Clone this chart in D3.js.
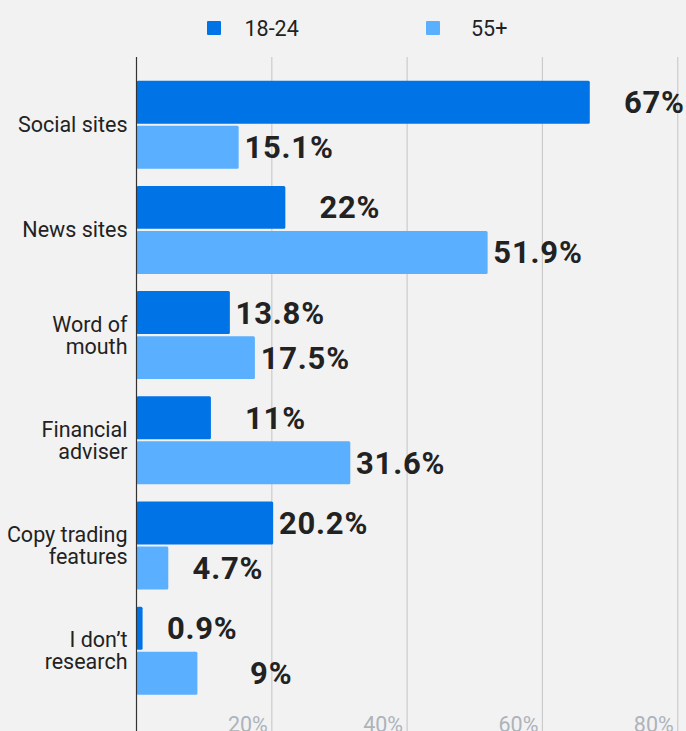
<!DOCTYPE html>
<html>
<head>
<meta charset="utf-8">
<script src="https://cdn.jsdelivr.net/npm/d3@7"></script>
<style>
  html, body { margin: 0; padding: 0; background: #f2f2f2; }
  svg { display: block; font-family: Roboto, "Noto Sans", sans-serif; }
</style>
</head>
<body>
<svg id="chart" width="686" height="731"></svg>
<script>
const categories = [["Social sites"], ["News sites"], ["Word of", "mouth"], ["Financial", "adviser"], ["Copy trading", "features"], ["I don\u2019t", "research"]];
const seriesNames = ["18-24", "55+"];
const values1824 = [67, 22, 13.8, 11, 20.2, 0.9];
const values55 = [15.1, 51.9, 17.5, 31.6, 4.7, 9];
const valueLabels1824 = ["67%", "22%", "13.8%", "11%", "20.2%", "0.9%"];
const valueLabels55 = ["15.1%", "51.9%", "17.5%", "31.6%", "4.7%", "9%"];
const tickValues = [20, 40, 60, 80];
const tickLabels = ["20%", "40%", "60%", "80%"];

const colors = ["#0073e6", "#5aafff"];
const W = 686, H = 731;
const svg = d3.select("#chart");

const catKeys = categories.map(c => c.join(" "));
const x = d3.scaleLinear().domain([0, 81]).range([136.5, 684.5]);
const y = d3.scaleBand().domain(catKeys).range([72.1, 703.3]).paddingInner(0.1635).paddingOuter(0.08175);
const ySub = d3.scaleBand().domain(seriesNames).range([0, y.bandwidth()]).paddingInner(0.0465);

const plotTop = 57;

// gridlines
svg.append("g").selectAll("line").data(tickValues).join("line")
  .attr("x1", d => x(d)).attr("x2", d => x(d))
  .attr("y1", plotTop).attr("y2", H)
  .attr("stroke", "#cccccc").attr("stroke-width", 1.2);

// tick labels
svg.append("g").selectAll("text").data(tickValues).join("text")
  .attr("x", d => x(d) - 4).attr("y", 732)
  .attr("text-anchor", "end")
  .attr("font-size", "21.5px").attr("fill", "#adb3bb")
  .text((d, i) => tickLabels[i]);

// bars
const rows = categories.map((c, i) => ({ key: catKeys[i], lines: c, vals: [values1824[i], values55[i]], labels: [valueLabels1824[i], valueLabels55[i]] }));
const groups = svg.append("g").selectAll("g").data(rows).join("g")
  .attr("transform", d => `translate(0,${y(d.key)})`);

groups.selectAll("rect").data(d => d.vals.map((v, j) => ({ v, s: seriesNames[j], j }))).join("rect")
  .attr("x", x(0)).attr("y", d => ySub(d.s))
  .attr("width", d => x(d.v) - x(0)).attr("height", ySub.bandwidth())
  .attr("rx", 1.5)
  .attr("fill", d => colors[d.j]);

// value labels
groups.selectAll("text.val").data(d => d.vals.map((v, j) => ({ v, s: seriesNames[j], label: d.labels[j] }))).join("text")
  .attr("class", "val")
  .attr("x", d => x(d.v) + 95)
  .attr("y", d => ySub(d.s) + ySub.bandwidth() / 2 + 11)
  .attr("text-anchor", "end")
  .attr("font-size", "31px").attr("font-weight", "bold").attr("fill", "#222222")
  .attr("letter-spacing", "0.8px")
  .text(d => d.label);

// category labels
const lineH = 22;
groups.each(function(d) {
  const g = d3.select(this);
  const n = d.lines.length;
  const cy = y.bandwidth() / 2;
  const t = g.append("text").attr("text-anchor", "end").attr("font-size", "21.5px").attr("fill", "#222222");
  d.lines.forEach((ln, k) => {
    t.append("tspan").attr("x", 127.5)
      .attr("y", cy + 7.6 + (k - (n - 1) / 2) * lineH)
      .text(ln);
  });
});

// axis line
svg.append("line").attr("x1", x(0)).attr("x2", x(0)).attr("y1", plotTop).attr("y2", H)
  .attr("stroke", "#333333").attr("stroke-width", 1.2);

// legend
const legendX = [207, 426];
const lg = svg.append("g").selectAll("g").data(seriesNames).join("g")
  .attr("transform", (d, i) => `translate(${legendX[i]},21)`);
lg.append("rect").attr("width", 14).attr("height", 14).attr("rx", 1).attr("fill", (d, i) => colors[i]);
lg.append("text").attr("x", (d, i) => i === 0 ? 37.5 : 45).attr("y", 15)
  .attr("font-size", "21.5px").attr("fill", "#222222").text(d => d);
</script>
</body>
</html>
